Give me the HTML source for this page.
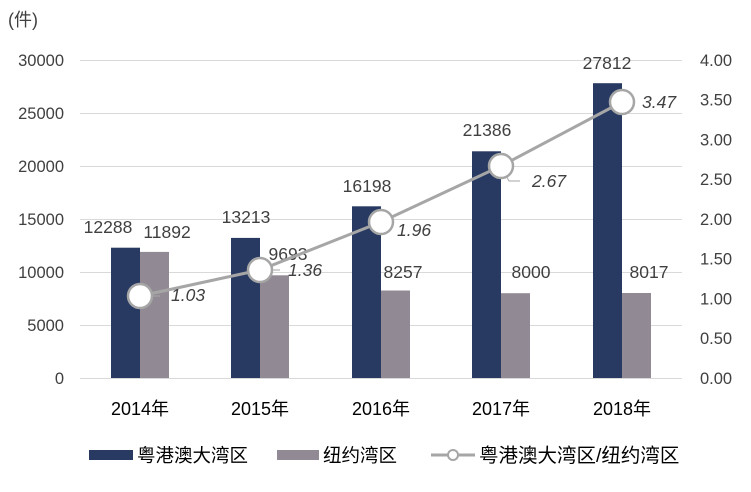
<!DOCTYPE html><html><head><meta charset="utf-8"><style>body{margin:0;background:#fff}</style></head><body>
<svg width="751" height="487" xmlns="http://www.w3.org/2000/svg" font-family="Liberation Sans, Noto Sans CJK SC, sans-serif">
<rect width="751" height="487" fill="#fff"/>
<g stroke="#d9d9d9" stroke-width="1">
<line x1="80" x2="682" y1="60.5" y2="60.5"/><line x1="80" x2="682" y1="113.5" y2="113.5"/><line x1="80" x2="682" y1="166.5" y2="166.5"/><line x1="80" x2="682" y1="219.5" y2="219.5"/><line x1="80" x2="682" y1="272.5" y2="272.5"/><line x1="80" x2="682" y1="325.5" y2="325.5"/><line x1="80" x2="682" y1="378.5" y2="378.5"/>
</g>
<text x="8" y="26" font-size="18" fill="#404040">(件)</text>
<g font-size="16.5" fill="#404040" text-anchor="end">
<text x="64" y="66">30000</text><text x="64" y="119">25000</text><text x="64" y="172">20000</text><text x="64" y="225">15000</text><text x="64" y="278">10000</text><text x="64" y="331">5000</text><text x="64" y="384">0</text>
</g>
<g font-size="16.5" fill="#404040">
<text x="700" y="66">4.00</text><text x="700" y="105.7">3.50</text><text x="700" y="145.5">3.00</text><text x="700" y="185.2">2.50</text><text x="700" y="225">2.00</text><text x="700" y="264.7">1.50</text><text x="700" y="304.5">1.00</text><text x="700" y="344.2">0.50</text><text x="700" y="384">0.00</text>
</g>
<g fill="#283a61">
<rect x="111" y="247.7" width="29" height="130.3"/>
<rect x="231" y="237.9" width="29" height="140.1"/>
<rect x="352" y="206.3" width="29" height="171.7"/>
<rect x="472" y="151.3" width="29" height="226.7"/>
<rect x="593" y="83.2" width="29" height="294.8"/>
</g>
<g fill="#918993">
<rect x="140" y="251.9" width="29" height="126.1"/>
<rect x="260" y="275.3" width="29" height="102.7"/>
<rect x="381" y="290.5" width="29" height="87.5"/>
<rect x="501" y="293.2" width="29" height="84.8"/>
<rect x="622" y="293" width="29" height="85"/>
</g>
<g font-size="17.5" fill="#404040" text-anchor="middle">
<text x="108" y="233">12288</text><text x="167" y="238">11892</text>
<text x="246" y="223">13213</text><text x="288" y="260">9693</text>
<text x="367" y="192">16198</text><text x="403" y="278">8257</text>
<text x="487" y="136">21386</text><text x="531" y="278">8000</text>
<text x="607" y="69">27812</text><text x="649" y="278">8017</text>
</g>
<polyline points="140,296 260,270 381,222 501,166 622,102" fill="none" stroke="#a6a6a6" stroke-width="3"/>
<g stroke="#a6a6a6" stroke-width="1" fill="none">
<line x1="140" x2="160" y1="296" y2="296"/><line x1="260" x2="280" y1="270" y2="270"/>
<polyline points="501,166 509,181 520,181"/>
</g>
<g fill="#fff" stroke="#a6a6a6" stroke-width="2.5">
<circle cx="140" cy="296" r="12"/><circle cx="260" cy="270" r="12"/><circle cx="381" cy="222" r="12"/><circle cx="501" cy="166" r="12"/><circle cx="622" cy="102" r="12"/>
</g>
<g font-size="17.5" fill="#404040" font-style="italic">
<text x="171" y="301">1.03</text><text x="288" y="276">1.36</text><text x="397" y="236">1.96</text><text x="532" y="187">2.67</text><text x="642" y="108">3.47</text>
</g>
<g font-size="18" fill="#000" text-anchor="middle">
<text x="140" y="415">2014年</text><text x="260" y="415">2015年</text><text x="381" y="415">2016年</text><text x="501" y="415">2017年</text><text x="622" y="415">2018年</text>
</g>
<rect x="89" y="450" width="44" height="10" fill="#283a61"/>
<text x="137" y="462" font-size="18.5" fill="#000">粤港澳大湾区</text>
<rect x="277" y="450" width="42" height="10" fill="#918993"/>
<text x="323" y="462" font-size="18.5" fill="#000">纽约湾区</text>
<line x1="431" x2="475" y1="455" y2="455" stroke="#a6a6a6" stroke-width="3"/>
<circle cx="453" cy="455" r="5" fill="#fff" stroke="#a6a6a6" stroke-width="2"/>
<text x="479" y="462" font-size="19.5" fill="#000">粤港澳大湾区/纽约湾区</text>
</svg>
</body></html>
